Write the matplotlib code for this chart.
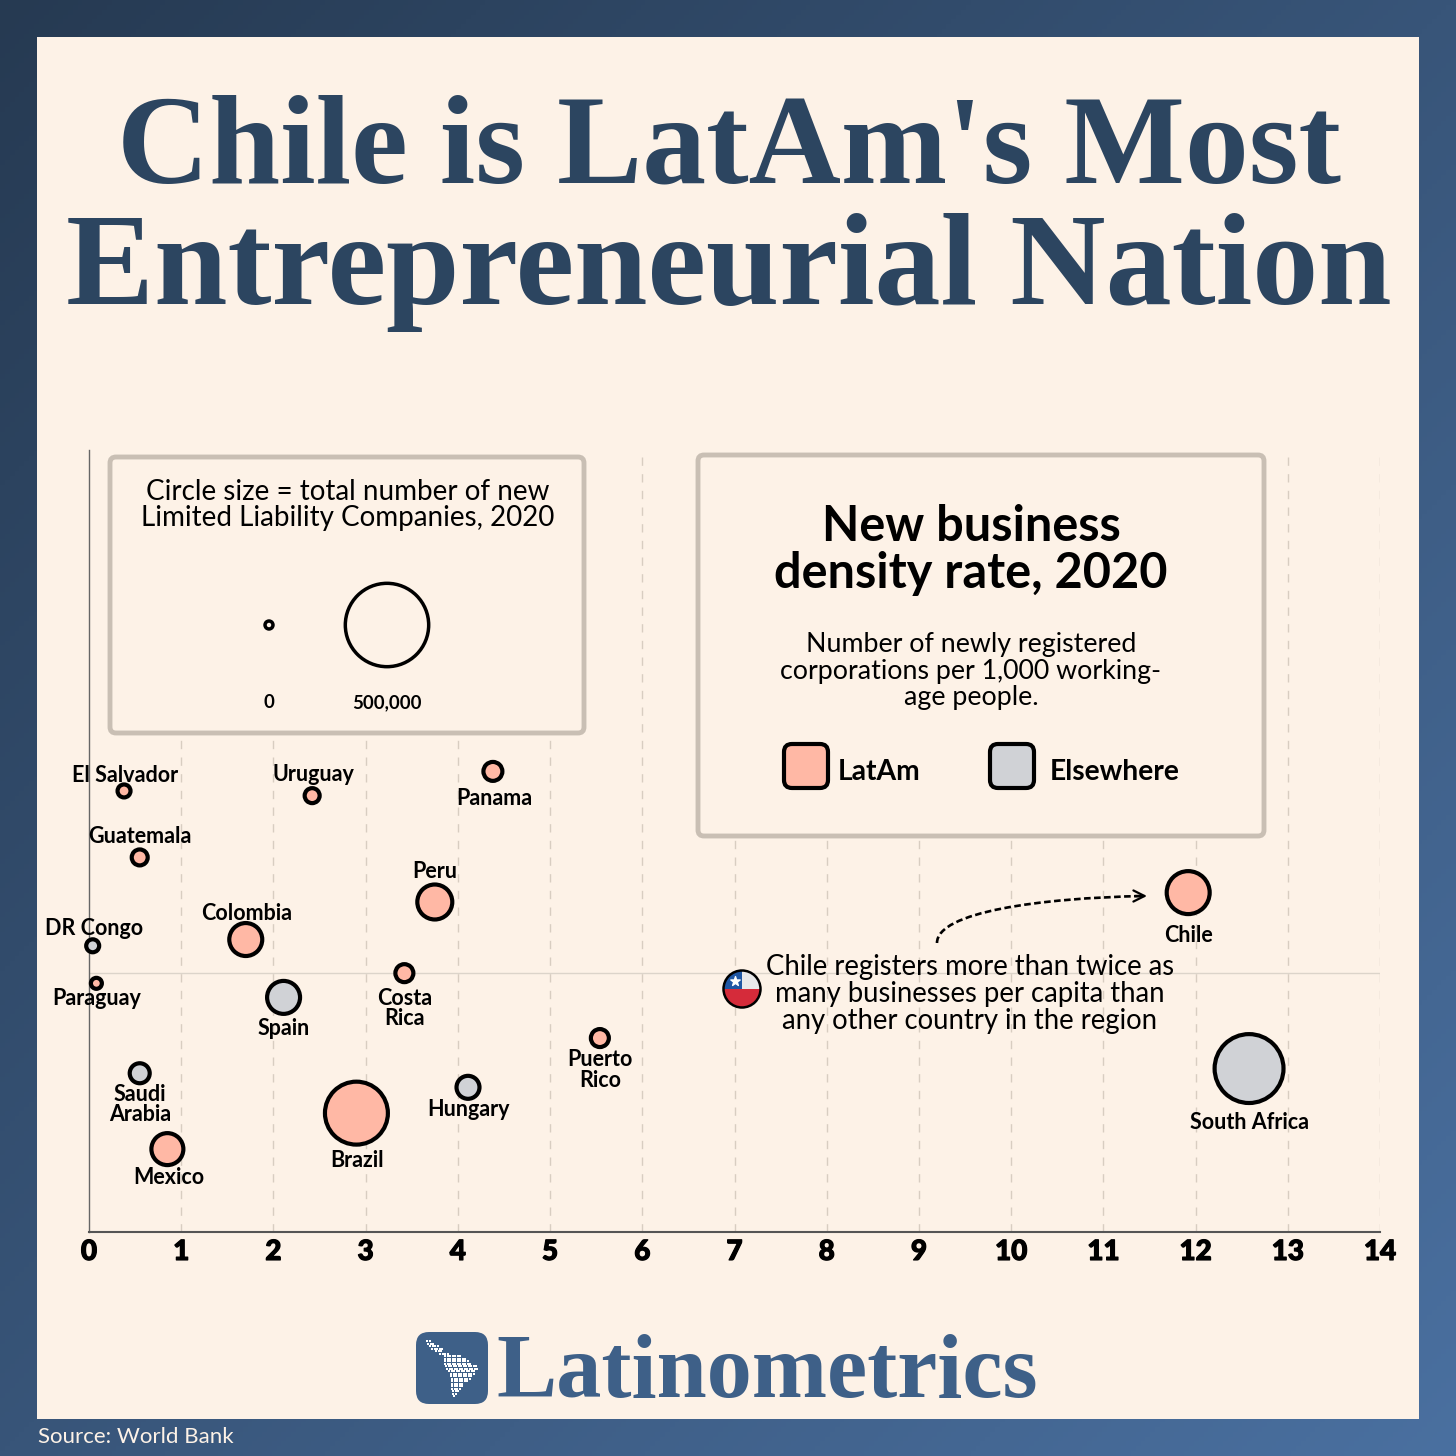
import numpy as np
import matplotlib
matplotlib.use("Agg")
import matplotlib.pyplot as plt
import matplotlib.patheffects as pe
from matplotlib.patches import FancyBboxPatch, Circle, Rectangle, PathPatch
from matplotlib.path import Path

names = ["El Salvador", "Uruguay", "Panama", "Guatemala", "Peru", "Chile", "Colombia",
	"DR Congo", "Paraguay", "Spain", "Costa\nRica", "Puerto\nRico", "Saudi\nArabia",
	"Hungary", "Brazil", "Mexico", "South Africa"]
density = [0.38, 2.42, 4.38, 0.55, 3.75, 11.92, 1.70, 0.04, 0.08, 2.11, 3.42, 5.54, 0.55, 4.11, 2.90, 0.85, 12.58]
height = [56.4, 55.8, 58.9, 47.9, 42.2, 43.4, 37.4, 36.6, 31.8, 30.0, 33.1, 24.8, 20.3, 18.5, 15.2, 10.6, 20.9]
new_llcs = [7600, 11700, 21500, 13900, 84200, 129400, 74300, 7600, 4150, 74300, 18900, 18900, 24400, 33700, 283000, 69600, 340000]
latam = [1, 1, 1, 1, 1, 1, 1, 0, 1, 0, 1, 1, 0, 0, 1, 1, 0]
size_legend = [0, 500000]
size_legend_labels = ["0", "500,000"]
xticks = list(range(15))

# label offsets from each circle, in pixels
label_off = [(1, 15), (1, 21), (1, -27), (0, 21), (0, 30), (0, -43), (1, 26), (1, 17), (0, -15),
	(0, -31), (0, -35), (0, -32), (0, -31), (0, -22), (1, -47), (1, -28), (0, -54)]

NAVY = "#2c4560"
BLUE = "#3e6088"
CREAM = "#fdf2e7"
PINK = "#ffb8a5"
GREY = "#d0d2d6"
BOX = "#c9bfb4"
SERIF = "Liberation Serif"
SANS = "Lato"

def area(v):
	return 33 + 0.00714 * np.asarray(v, dtype=float)

fig = plt.figure(figsize=(14.56, 14.56), dpi=100)

# gradient border
bg = fig.add_axes([0, 0, 1, 1], zorder=0)
gx, gy = np.meshgrid(np.linspace(0, 1, 300), np.linspace(0, 1, 300))
t = ((gx + gy) / 2)[..., None]
c0 = np.array([0x26, 0x3a, 0x52]) / 255
c1 = np.array([0x4a, 0x70, 0xa0]) / 255
bg.imshow(c0 + (c1 - c0) * t, extent=(0, 1456, 1456, 0), aspect="auto")
bg.set_xlim(0, 1456)
bg.set_ylim(1456, 0)
bg.axis("off")
bg.add_patch(Rectangle((37, 37), 1382, 1382, fc=CREAM, ec="none"))

# chart
ax = fig.add_axes([89 / 1456, 224 / 1456, 1291 / 1456, 782 / 1456], zorder=1)
ax.patch.set_alpha(0)
ax.set_xlim(0, 14)
ax.set_ylim(0, 100)
for k in xticks[1:]:
	ax.axvline(k, color="#d8cdc1", lw=1, ls=(0, (6, 6)), zorder=1)
ax.axhline(33.1, color="#dcd4ca", lw=1, zorder=1)
for s in ["top", "right"]:
	ax.spines[s].set_visible(False)
ax.spines["left"].set_color("#666666")
ax.spines["left"].set_linewidth(1)
ax.spines["bottom"].set_color("#555555")
ax.spines["bottom"].set_linewidth(1.5)
ax.set_yticks([])
ax.set_xticks(xticks)
ax.set_xticklabels([str(k) for k in xticks], fontfamily=SANS, fontweight="black", fontsize=20,
	path_effects=[pe.withStroke(linewidth=0.9, foreground="black")])
ax.tick_params(axis="x", length=0, pad=5)

colors = [PINK if f else GREY for f in latam]
ax.scatter(density, height, s=area(new_llcs), c=colors, edgecolors="black", linewidths=3, zorder=3, clip_on=False)
for k in range(len(names)):
	ax.annotate(names[k], (density[k], height[k]), xytext=label_off[k], textcoords="offset pixels",
		ha="center", va="center", fontfamily=SANS, fontweight="bold", fontsize=15.5,
		linespacing=0.95, zorder=4)

# overlay in pixel coordinates for boxes and notes
ov = fig.add_axes([0, 0, 1, 1], zorder=2)
ov.set_xlim(0, 1456)
ov.set_ylim(1456, 0)
ov.axis("off")

def box(x0, y0, x1, y1):
	ov.add_patch(FancyBboxPatch((x0, y0), x1 - x0, y1 - y0, boxstyle="round,pad=0,rounding_size=6",
		fc=CREAM, ec=BOX, lw=3.5))

box(110, 457, 584, 733)
box(698, 455, 1264, 836)

ov.text(729, 152, "Chile is LatAm's Most", ha="center", va="center", fontfamily=SERIF, fontweight="bold", fontsize=92, color=NAVY)
ov.text(729, 273, "Entrepreneurial Nation", ha="center", va="center", fontfamily=SERIF, fontweight="bold", fontsize=95, color=NAVY)

ov.text(348, 505, "Circle size = total number of new\nLimited Liability Companies, 2020", ha="center", va="center",
	fontfamily=SANS, fontsize=20, linespacing=1.03)
ov.scatter([269, 387], [625, 625], s=area(size_legend), fc=CREAM, ec="black", lw=2.5, zorder=3)
for xp, lab in zip([269, 387], size_legend_labels):
	ov.text(xp, 703, lab, ha="center", va="center", fontfamily=SANS, fontweight="bold", fontsize=13.4)

ov.text(971, 550, "New business\ndensity rate, 2020", ha="center", va="center", fontfamily=SANS, fontweight="bold",
	fontsize=35, linespacing=1.03)
ov.text(971, 671, "Number of newly registered\ncorporations per 1,000 working-\nage people.", ha="center", va="center",
	fontfamily=SANS, fontsize=19.3, linespacing=1.09)

for x0, col, lab, xt in [(784, PINK, "LatAm", 838), (990, GREY, "Elsewhere", 1050)]:
	ov.add_patch(FancyBboxPatch((x0, 744), 44, 44, boxstyle="round,pad=0,rounding_size=8", fc=col, ec="black", lw=3))
	ov.text(xt, 772, lab, ha="left", va="center", fontfamily=SANS, fontweight="bold", fontsize=20.3)

# note and arrow
ov.text(970, 994, "Chile registers more than twice as\nmany businesses per capita than\nany other country in the region",
	ha="center", va="center", fontfamily=SANS, fontsize=19.8, linespacing=1.07)
arc = Path([(937, 943), (937, 912), (1040, 898), (1144, 896)], [Path.MOVETO, Path.CURVE4, Path.CURVE4, Path.CURVE4])
ov.add_patch(PathPatch(arc, fc="none", ec="black", lw=1.9, ls=(0, (2.5, 1.3))))
ov.annotate("", xy=(1147, 896), xytext=(1135, 896), arrowprops=dict(arrowstyle="->", color="black", lw=1.6, mutation_scale=20, shrinkA=0, shrinkB=0))

# chilean flag
ring = Circle((742, 989), 18.5, fc="white", ec="none")
ov.add_patch(ring)
for (rx, ry, rw, rh, col) in [(723, 970, 38, 19, "#e8e8ea"), (723, 970, 19, 19, "#1f57a4"), (723, 989, 38, 20, "#d52b3a")]:
	r = Rectangle((rx, ry), rw, rh, fc=col, ec="none")
	ov.add_patch(r)
	r.set_clip_path(ring)
ov.scatter([735], [981], marker="*", s=50, c="white", zorder=3)
ov.add_patch(Circle((742, 989), 18.5, fc="none", ec="black", lw=1.8, zorder=4))

# logo
ov.add_patch(FancyBboxPatch((416, 1332), 72, 72, boxstyle="round,pad=0,rounding_size=13", fc=BLUE, ec="none"))
rows = [(1341, 427, 431), (1343.5, 428, 434), (1346, 430, 438), (1348.5, 432, 444), (1351, 436, 442), (1353.5, 440, 448),
	(1356, 445, 460), (1358.5, 445, 465), (1361, 445, 469), (1363.5, 445, 472), (1366, 446, 476), (1368.5, 447, 477),
	(1371, 449, 476), (1373.5, 451, 474), (1376, 451, 472), (1378.5, 452, 470), (1381, 452, 467), (1383.5, 452, 464),
	(1386, 452, 462), (1388.5, 452, 460), (1391, 453, 458), (1393.5, 453, 457), (1396, 454, 456)]
lx = []
ly = []
for yr, a, b in rows:
	for xr in np.arange(a, b + 0.1, 2.5):
		lx.append(xr)
		ly.append(yr)
ov.scatter(lx, ly, s=1.1, c="white", marker="s", linewidths=0, zorder=3)
ov.text(767, 1375, "Latinometrics", ha="center", va="center", fontfamily=SERIF, fontweight="bold", fontsize=65, color=BLUE)

ov.text(38, 1437, "Source: World Bank", ha="left", va="center", fontfamily=SANS, fontsize=16, color=CREAM)

plt.savefig("out.png", dpi=100)
